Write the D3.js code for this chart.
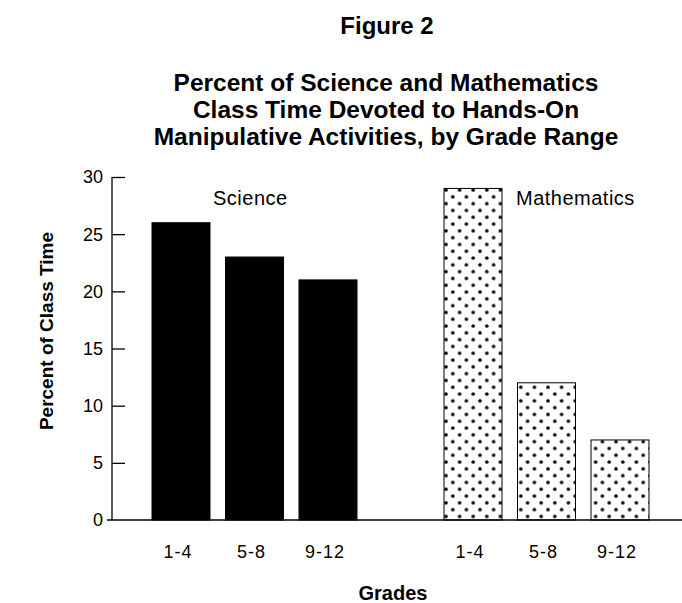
<!DOCTYPE html>
<html>
<head>
<meta charset="utf-8">
<script src="https://cdn.jsdelivr.net/npm/d3@7"></script>
<style>
  html, body { margin: 0; padding: 0; background: #fff; }
  svg { display: block; font-family: "Liberation Sans", Arial, Helvetica, sans-serif; }
</style>
</head>
<body>
<svg id="chart" width="682" height="603"></svg>
<script>
// ---- data ----
const subjects = ["Science", "Mathematics"];
const grades = ["1-4", "5-8", "9-12"];
const scienceValues = [26, 23, 21];
const mathValues = [29, 12, 7];
const yTicks = [0, 5, 10, 15, 20, 25, 30];
const figureLabel = "Figure 2";
const titleLines = [
  "Percent of Science and Mathematics",
  "Class Time Devoted to Hands-On",
  "Manipulative Activities, by Grade Range"
];
const xTitle = "Grades";
const yTitle = "Percent of Class Time";

const seriesValues = { "Science": scienceValues, "Mathematics": mathValues };
const rows = [];
subjects.forEach(s => grades.forEach((g, i) => rows.push({ subject: s, grade: g, value: seriesValues[s][i] })));

// ---- layout ----
const svg = d3.select("#chart");
const axisX = 112;
const y = d3.scaleLinear().domain([0, 30]).range([520, 177]);
const xGroup = d3.scaleBand().domain(subjects).range([152, 649]).paddingInner(0.298).paddingOuter(0);
const xInner = d3.scaleBand().domain(grades).range([0, xGroup.bandwidth()]).paddingInner(0.211).paddingOuter(0);

// dot pattern
const defs = svg.append("defs");
const tile = 13.6;
const pat = defs.append("pattern")
  .attr("id", "dots").attr("patternUnits", "userSpaceOnUse")
  .attr("width", tile).attr("height", tile)
  .attr("x", 446).attr("y", 190);
pat.append("rect").attr("width", tile).attr("height", tile).attr("fill", "#fff");
[[0, 0], [tile, 0], [0, tile], [tile, tile], [tile / 2, tile / 2]].forEach(([cx, cy]) =>
  pat.append("circle").attr("cx", cx).attr("cy", cy).attr("r", 1.8).attr("fill", "#000"));

// titles
svg.append("text").attr("x", 387).attr("y", 34).attr("text-anchor", "middle")
  .attr("font-size", 24).attr("font-weight", "bold").text(figureLabel);
svg.append("g").selectAll("text").data(titleLines).join("text")
  .attr("x", 386).attr("y", (d, i) => 91 + i * 27)
  .attr("text-anchor", "middle").attr("font-size", 24.5).attr("font-weight", "bold")
  .text(d => d);

// y axis
const yAxis = d3.axisRight(y).tickValues(yTicks.filter(t => t > 0)).tickSize(13).tickFormat("");
const gy = svg.append("g").attr("transform", `translate(${axisX},0)`).call(yAxis);
gy.select(".domain").remove();
gy.selectAll(".tick line").attr("stroke", "#000").attr("stroke-width", 1.3);
svg.append("line").attr("x1", axisX).attr("x2", axisX).attr("y1", y(30)).attr("y2", y(0))
  .attr("stroke", "#000").attr("stroke-width", 1.3);
svg.append("g").selectAll("text").data(yTicks).join("text")
  .attr("x", axisX - 9).attr("y", d => y(d)).attr("dy", "0.36em")
  .attr("text-anchor", "end").attr("font-size", 18).text(d => d);

// bars
svg.append("g").selectAll("rect").data(rows).join("rect")
  .attr("x", d => xGroup(d.subject) + xInner(d.grade))
  .attr("width", xInner.bandwidth())
  .attr("y", d => y(d.value))
  .attr("height", d => y(0) - y(d.value))
  .attr("fill", d => d.subject === "Science" ? "#000" : "url(#dots)")
  .attr("stroke", "#000").attr("stroke-width", 1);

// baseline
svg.append("line").attr("x1", 107).attr("x2", 682).attr("y1", y(0)).attr("y2", y(0))
  .attr("stroke", "#000").attr("stroke-width", 1.5);

// series labels
svg.append("text").attr("x", xGroup("Science") + 61).attr("y", 205)
  .attr("font-size", 20).attr("letter-spacing", "0.5px").text(subjects[0]);
svg.append("text").attr("x", xGroup("Mathematics") + 72).attr("y", 205)
  .attr("font-size", 20).attr("letter-spacing", "0.5px").text(subjects[1]);

// category labels
svg.append("g").selectAll("text").data(rows).join("text")
  .attr("x", d => xGroup(d.subject) + xInner(d.grade) + xInner.bandwidth() / 2 - 3)
  .attr("y", 558).attr("text-anchor", "middle").attr("font-size", 18).attr("letter-spacing", "1px")
  .text(d => d.grade);

// axis titles
svg.append("text").attr("x", 393).attr("y", 600).attr("text-anchor", "middle")
  .attr("font-size", 20).attr("font-weight", "bold").text(xTitle);
svg.append("text").attr("transform", "translate(53,331) rotate(-90)")
  .attr("text-anchor", "middle").attr("font-size", 19).attr("font-weight", "bold").text(yTitle);
</script>
</body>
</html>
